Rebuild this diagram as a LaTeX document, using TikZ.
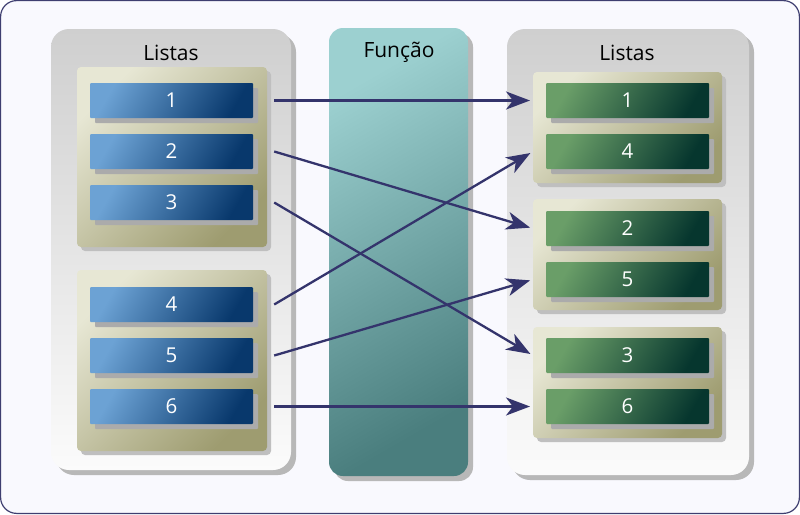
\documentclass[tikz,border=0pt]{standalone}
\usepackage{fontspec}
\setmainfont{Open Sans}
\usetikzlibrary{shadows,arrows.meta,positioning}

\definecolor{framecol}{HTML}{3E3E70}
\definecolor{pagebg}{HTML}{F9F9FE}
\definecolor{arrowcol}{HTML}{34346C}
\definecolor{panelTop}{HTML}{CFCFCF}
\definecolor{panelBot}{HTML}{FBFBFB}
\definecolor{grpLight}{HTML}{E7E7D4}
\definecolor{grpDark}{HTML}{9E9C70}
\definecolor{blueLight}{HTML}{6CA2D4}
\definecolor{blueDark}{HTML}{08386C}
\definecolor{greenLight}{HTML}{6A9E68}
\definecolor{greenDark}{HTML}{06362E}
\definecolor{tealLight}{HTML}{9CD0D0}
\definecolor{tealDark}{HTML}{4A7E7E}

\tikzset{
  panel/.style={rounded corners=18pt, top color=panelTop, bottom color=panelBot,
    drop shadow={shadow xshift=5pt, shadow yshift=-5pt, fill=black!28, opacity=1}},
  funcpanel/.style={rounded corners=14pt, top color=tealLight, bottom color=tealDark,
    shading angle=30,
    drop shadow={shadow xshift=5pt, shadow yshift=-5pt, fill=black!28, opacity=1}},
  group/.style={rounded corners=4pt, top color=grpLight, bottom color=grpDark,
    shading angle=45,
    drop shadow={shadow xshift=4pt, shadow yshift=-4pt, fill=black!25, opacity=1}},
  item/.style={minimum width=163pt, minimum height=35pt, inner sep=0pt,
    rounded corners=1pt, text=white, font=\fontsize{20.5}{24}\selectfont,
    drop shadow={shadow xshift=5pt, shadow yshift=-5pt, fill=black!33, opacity=1}},
  blueitem/.style={item, top color=blueLight, bottom color=blueDark, shading angle=60},
  greenitem/.style={item, top color=greenLight, bottom color=greenDark, shading angle=60},
  title/.style={font=\fontsize{21}{24}\selectfont, text=black},
  link/.style={draw=arrowcol, line width=2.3pt,
    -{Stealth[length=24pt, width=18pt, inset=7pt]}, shorten >=3pt}
}

\begin{document}
\begin{tikzpicture}[x=1pt, y=-1pt]
  % page with its frame
  \path[use as bounding box] (0,0) rectangle (800,514);
  \draw[framecol, fill=pagebg, line width=1.2pt, rounded corners=16pt]
    (0.6,0.6) rectangle (799.4,513.4);

  % three columns
  \path[panel] (51,29) rectangle (291,470);
  \path[funcpanel] (329,28) rectangle (468,476);
  \path[panel] (507,29) rectangle (749,475);

  \node[title] (ltitle) at (171,53) {Listas};
  \node[title] (ftitle) at (399,52) {Função};
  \node[title] (rtitle) at (627,53) {Listas};

  % left groups
  \path[group] (77,67) rectangle (267,247);
  \path[group] (77,270) rectangle (267,451);
  \node[blueitem] (l1) at (171.5,100.5) {1};
  \node[blueitem] (l2) at (171.5,151.5) {2};
  \node[blueitem] (l3) at (171.5,202.5) {3};
  \node[blueitem] (l4) at (171.5,304.5) {4};
  \node[blueitem] (l5) at (171.5,355.5) {5};
  \node[blueitem] (l6) at (171.5,406.5) {6};

  % right groups
  \path[group] (533,72) rectangle (722,183);
  \coordinate (g1) at (533,72);
  \path[group] (533,199) rectangle (722,310);
  \coordinate (g2) at (533,199);
  \path[group] (533,327) rectangle (722,438);
  \coordinate (g3) at (533,327);
  \node[greenitem] (r1) at (627.5,100.5) {1};
  \node[greenitem] (r4) at (627.5,151.5) {4};
  \node[greenitem] (r2) at (627.5,228.5) {2};
  \node[greenitem] (r5) at (627.5,279.5) {5};
  \node[greenitem] (r3) at (627.5,355.5) {3};
  \node[greenitem] (r6) at (627.5,406.5) {6};

  % mapping, each line leaving a little to the right of its box
  \draw[link] ([xshift=21pt]l1.east) -- (r1.west -| g1);
  \draw[link] ([xshift=21pt]l2.east) -- (r2.west -| g2);
  \draw[link] ([xshift=21pt]l3.east) -- (r3.west -| g3);
  \draw[link] ([xshift=21pt]l4.east) -- (r4.west -| g1);
  \draw[link] ([xshift=21pt]l5.east) -- (r5.west -| g2);
  \draw[link] ([xshift=21pt]l6.east) -- (r6.west -| g3);
\end{tikzpicture}
\end{document}
